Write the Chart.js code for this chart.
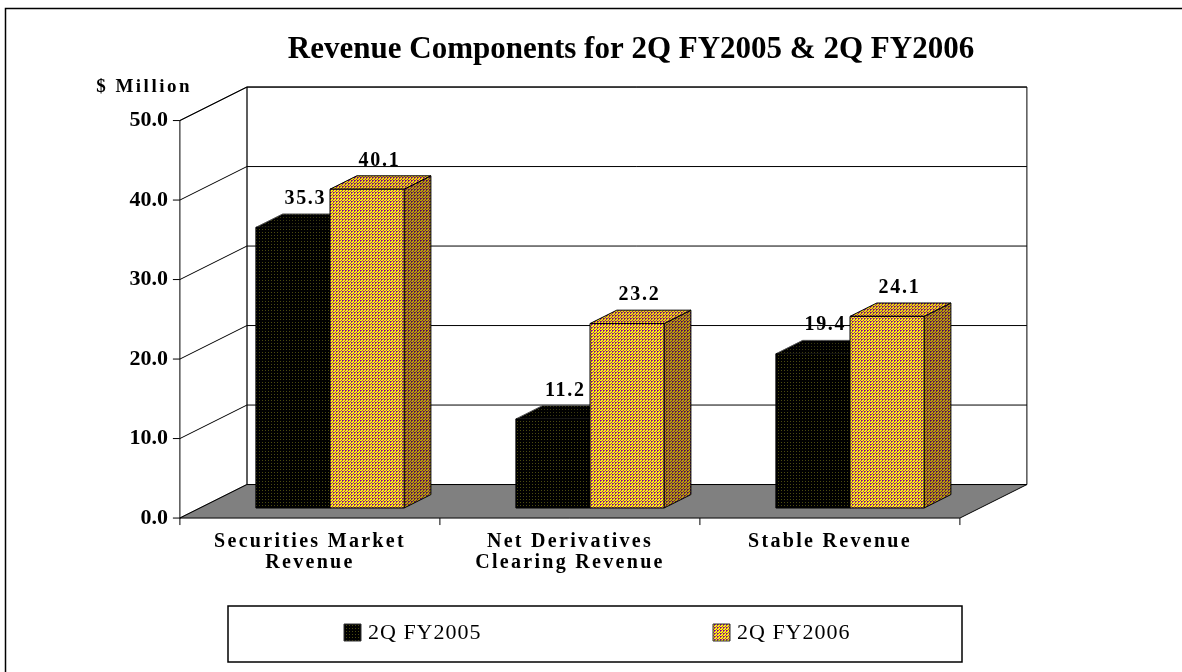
<!DOCTYPE html>
<html>
<head>
<meta charset="utf-8">
<script src="https://cdn.jsdelivr.net/npm/chart.js@4.4.1/dist/chart.umd.min.js"></script>
<style>
  html, body { margin: 0; padding: 0; background: #fff; }
  #wrap { width: 1182px; height: 672px; position: relative; }
</style>
</head>
<body>
<div id="wrap"><canvas id="chart"></canvas></div>
<script>
const categories = [["Securities Market", "Revenue"], ["Net Derivatives", "Clearing Revenue"], ["Stable Revenue"]];
const seriesNames = ["2Q FY2005", "2Q FY2006"];
const values2005 = [35.3, 11.2, 19.4];
const values2006 = [40.1, 23.2, 24.1];
const yMin = 0, yMax = 50, yStep = 10;
const chartTitle = "Revenue Components for 2Q FY2005 & 2Q FY2006";
const unitLabel = "$ Million";

const FONT = "'Liberation Serif', 'Times New Roman', serif";
// 3D look: depth of the floor, and where the bars sit inside it
const DEPTH_X = 67, DEPTH_Y = 33.5;
const BAR_FRONT = 0.3, BAR_BACK = 0.7;

function makeTile(size, bg, dots) {
  const c = document.createElement("canvas");
  c.width = c.height = size;
  const t = c.getContext("2d");
  t.fillStyle = bg;
  t.fillRect(0, 0, size, size);
  dots.forEach(([x, y, col]) => { t.fillStyle = col; t.fillRect(x, y, 1, 1); });
  return c;
}

const canvas = document.getElementById("chart");
const ctx0 = canvas.getContext("2d");
const pat = (tileCanvas) => ctx0.createPattern(tileCanvas, "repeat");

// yellow blocks split by thin purple lines (plaid)
const yellowTile = (y, p, q) => makeTile(3, y, [[0, 0, q], [1, 0, p], [0, 1, p], [2, 2, p]]);
const blackTile = (b, d) => makeTile(3, b, [[1, 1, d]]);

const looks = [
  {
    front: pat(blackTile("#000", "#4a4a10")),
    top: pat(blackTile("#000", "#3a3a10")),
    side: pat(blackTile("#000", "#2a2a08")),
    stroke: "#000", topStroke: "#555"
  },
  {
    front: pat(yellowTile("#ffff00", "#a02890", "#801070")),
    top: pat(yellowTile("#f0e000", "#902080", "#701060")),
    side: pat(yellowTile("#b8a400", "#6a1a5a", "#501048")),
    stroke: "#000", topStroke: "#000"
  }
];

function poly(ctx, pts, fill, stroke) {
  ctx.beginPath();
  pts.forEach(([x, y], i) => i ? ctx.lineTo(x, y) : ctx.moveTo(x, y));
  ctx.closePath();
  if (fill) { ctx.fillStyle = fill; ctx.fill(); }
  if (stroke) { ctx.strokeStyle = stroke; ctx.stroke(); }
}

// point on the bar plane shifted to depth d (0 = front, 1 = back wall)
function at(x, y, d) {
  return [x + (d - BAR_FRONT) * DEPTH_X, y - (d - BAR_FRONT) * DEPTH_Y];
}

const box3d = {
  id: "box3d",
  beforeDraw(chart) {
    const ctx = chart.ctx;
    ctx.save();
    ctx.fillStyle = "#fff";
    ctx.fillRect(0, 0, chart.width, chart.height);
    ctx.lineWidth = 1.5;
    ctx.strokeStyle = "#000";
    ctx.strokeRect(5.5, 8.5, chart.width + 20, chart.height + 20);
    ctx.restore();
    // y labels (z 0) are drawn plain
    ctx.letterSpacing = "0px";
  },
  beforeDatasetsDraw(chart) {
    const { ctx, chartArea: ca, scales: { x: xs, y: ys } } = chart;
    const L = ca.left, R = ca.right;
    const yTop = ys.getPixelForValue(yMax), y0 = ys.getPixelForValue(yMin);
    ctx.save();
    ctx.lineWidth = 1;
    ctx.strokeStyle = "#000";
    // back wall
    poly(ctx, [at(L, yTop, 1), at(R, yTop, 1), at(R, y0, 1), at(L, y0, 1)], "#fff", "#000");
    // left wall
    poly(ctx, [at(L, yTop, 0), at(L, yTop, 1), at(L, y0, 1), at(L, y0, 0)], "#fff", "#000");
    // floor
    poly(ctx, [at(L, y0, 0), at(R, y0, 0), at(R, y0, 1), at(L, y0, 1)], "#808080", "#000");
    // gridlines and y tick marks
    for (let v = yMin; v <= yMax; v += yStep) {
      const yy = ys.getPixelForValue(v);
      const f = at(L, yy, 0), b = at(L, yy, 1), br = at(R, yy, 1);
      ctx.beginPath();
      if (v > yMin) {
        ctx.moveTo(f[0], f[1]); ctx.lineTo(b[0], b[1]); ctx.lineTo(br[0], br[1]);
      }
      ctx.moveTo(f[0] - 7, f[1]); ctx.lineTo(f[0], f[1]);
      ctx.stroke();
    }
    // x tick marks along the front edge of the floor
    for (let i = 0; i <= categories.length; i++) {
      const p = at(xs.getPixelForValue(i - 0.5), y0, 0);
      ctx.beginPath();
      ctx.moveTo(p[0], p[1]); ctx.lineTo(p[0], p[1] + 7);
      ctx.stroke();
    }
    ctx.restore();
  },
  afterDatasetsDraw(chart) {
    const ctx = chart.ctx;
    const dx = (BAR_BACK - BAR_FRONT) * DEPTH_X, dy = (BAR_BACK - BAR_FRONT) * DEPTH_Y;
    ctx.save();
    ctx.lineWidth = 1;
    ctx.letterSpacing = "0px";
    categories.forEach((c, j) => {
      chart.data.datasets.forEach((ds, i) => {
        const el = chart.getDatasetMeta(i).data[j];
        const lk = looks[i];
        const x0 = el.x - el.width / 2, x1 = el.x + el.width / 2, yt = el.y, yb = el.base;
        poly(ctx, [[x1, yt], [x1 + dx, yt - dy], [x1 + dx, yb - dy], [x1, yb]], lk.side, lk.stroke);
        poly(ctx, [[x0, yt], [x1, yt], [x1 + dx, yt - dy], [x0 + dx, yt - dy]], lk.top, lk.topStroke);
        poly(ctx, [[x0, yt], [x1, yt], [x1, yb], [x0, yb]], lk.front, lk.stroke);
      });
    });
    // value labels
    ctx.fillStyle = "#000";
    ctx.font = "bold 20px " + FONT;
    ctx.letterSpacing = "1.7px";
    ctx.textAlign = "center";
    ctx.textBaseline = "alphabetic";
    chart.data.datasets.forEach((ds, i) => {
      chart.getDatasetMeta(i).data.forEach((el, j) => {
        ctx.fillText(ds.data[j].toFixed(1), el.x + dx / 2 - 1, el.y - dy - 10);
      });
    });
    // title and unit
    ctx.letterSpacing = "0px";
    ctx.font = "bold 31px " + FONT;
    ctx.textBaseline = "middle";
    ctx.fillText(chartTitle, 631, 50);
    ctx.font = "bold 19px " + FONT;
    ctx.letterSpacing = "2.5px";
    ctx.textAlign = "right";
    ctx.fillText(unitLabel, 192, 87);
    // legend
    ctx.lineWidth = 1.5;
    ctx.strokeStyle = "#000";
    ctx.strokeRect(228, 606, 734, 56);
    const legendX = [344, 713];
    ctx.font = "22px " + FONT;
    ctx.letterSpacing = "1px";
    ctx.textAlign = "left";
    seriesNames.forEach((name, i) => {
      ctx.lineWidth = 1;
      poly(ctx, [[legendX[i], 624], [legendX[i] + 17, 624], [legendX[i] + 17, 641], [legendX[i], 641]], looks[i].front, "#333");
      ctx.fillStyle = "#000";
      ctx.fillText(name, legendX[i] + 24, 633);
    });
    ctx.restore();
    // x labels (z 1) are letter-spaced like the original
    ctx.letterSpacing = "2.3px";
  }
};

new Chart(canvas, {
  type: "bar",
  data: {
    labels: categories,
    datasets: [
      { label: seriesNames[0], data: values2005, backgroundColor: "rgba(0,0,0,0)", borderWidth: 0 },
      { label: seriesNames[1], data: values2006, backgroundColor: "rgba(0,0,0,0)", borderWidth: 0 }
    ]
  },
  options: {
    responsive: true,
    maintainAspectRatio: false,
    animation: false,
    layout: { padding: { top: 110.5, right: 202, left: 0, bottom: 0 } },
    datasets: { bar: { categoryPercentage: 0.57, barPercentage: 1.0 } },
    plugins: {
      legend: { display: false },
      title: { display: false },
      tooltip: { enabled: false }
    },
    scales: {
      x: {
        grid: { display: false, drawTicks: false },
        border: { display: false },
        ticks: {
          z: 1,
          color: "#000",
          font: { family: FONT, size: 20, weight: "bold", lineHeight: 1.02 },
          padding: 24,
          labelOffset: -20,
          maxRotation: 0,
          autoSkip: false
        },
        afterFit: (s) => { s.height = 164; }
      },
      y: {
        min: yMin,
        max: yMax,
        grid: { display: false, drawTicks: false },
        border: { display: false },
        ticks: {
          stepSize: yStep,
          color: "#000",
          font: { family: FONT, size: 22, weight: "bold" },
          padding: 32,
          labelOffset: 10,
          callback: (v) => v.toFixed(1)
        },
        afterFit: (s) => { s.width = 200; }
      }
    }
  },
  plugins: [box3d]
});
</script>
</body>
</html>
